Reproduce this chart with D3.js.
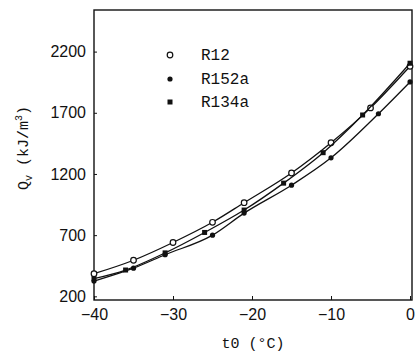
<!DOCTYPE html>
<html>
<head>
<meta charset="utf-8">
<script src="https://cdn.jsdelivr.net/npm/d3@7"></script>
<style>
  body { margin: 0; background: #fff; }
  svg { display: block; }
  .tick text { font-family: "Liberation Sans", Arial, sans-serif; font-size: 16px; fill: #111; }
  .mono { font-family: "Liberation Mono", "Courier New", monospace; fill: #111; }
</style>
</head>
<body>
<div id="chart"></div>
<script>
// data
const r12T = [-40, -35, -30, -25, -21, -15, -10, -5, 0]
const r12Q = [385, 495, 640, 805, 965, 1208, 1455, 1740, 2080]
const r152aT = [-40, -35, -31, -25, -21, -15, -10, -4, 0]
const r152aQ = [325, 430, 540, 700, 880, 1108, 1332, 1692, 1952]
const r134aT = [-40, -36, -31, -26, -21, -16, -11, -6, 0]
const r134aQ = [345, 415, 555, 722, 905, 1125, 1374, 1682, 2105]
const xTicks = [-40, -30, -20, -10, 0]
const yTicks = [200, 700, 1200, 1700, 2200]
const seriesNames = ['R12', 'R152a', 'R134a']

const width = 418
const height = 356
const plotL = 94, plotR = 412, plotT = 10, plotB = 300

const svg = d3.select('#chart').append('svg')
  .attr('width', width)
  .attr('height', height)

const x = d3.scaleLinear().domain([-40, 0.25]).range([plotL, plotR])
const y = d3.scaleLinear().domain([170, 2540]).range([plotB, plotT])

// frame
svg.append('rect')
  .attr('x', plotL).attr('y', plotT)
  .attr('width', plotR - plotL).attr('height', plotB - plotT)
  .attr('fill', 'none').attr('stroke', '#111').attr('stroke-width', 1.4)

const xAxis = svg.append('g')
  .attr('transform', `translate(0,${plotB})`)
  .call(d3.axisBottom(x).tickValues(xTicks).tickSizeInner(-4).tickSizeOuter(0).tickPadding(9)
    .tickFormat(d => d === 0 ? '0' : '\u2212' + Math.abs(d)))
xAxis.select('.domain').remove()
xAxis.selectAll('.tick line').attr('stroke', '#111')

const yAxis = svg.append('g')
  .attr('transform', `translate(${plotL},0)`)
  .call(d3.axisLeft(y).tickValues(yTicks).tickSizeInner(-3).tickSizeOuter(0).tickPadding(8)
    .tickFormat(d3.format('d')))
yAxis.select('.domain').remove()
yAxis.selectAll('.tick line').attr('stroke', '#111')

// axis titles
const yt = svg.append('text')
  .attr('class', 'mono')
  .attr('transform', 'translate(28,148) rotate(-90)')
  .attr('text-anchor', 'middle')
  .attr('font-size', 15)
yt.append('tspan').text('Q')
yt.append('tspan').attr('font-size', 10).attr('dy', 4).text('v')
yt.append('tspan').attr('dy', -4).text(' (kJ/m')
yt.append('tspan').attr('font-size', 10).attr('dy', -6).text('3')
yt.append('tspan').attr('dy', 6).text(')')

svg.append('text')
  .attr('class', 'mono')
  .attr('x', 253).attr('y', 348)
  .attr('text-anchor', 'middle')
  .attr('font-size', 15)
  .text('t0 (\u00b0C)')

// curves
const line = d3.line()
  .x(d => x(d[0]))
  .y(d => y(d[1]))
  .curve(d3.curveMonotoneX)

const series = [
  { name: seriesNames[0], pts: d3.zip(r12T, r12Q), marker: 'open' },
  { name: seriesNames[1], pts: d3.zip(r152aT, r152aQ), marker: 'dot' },
  { name: seriesNames[2], pts: d3.zip(r134aT, r134aQ), marker: 'square' }
]

function drawMarker(g, kind, cx, cy) {
  if (kind === 'open') {
    g.append('circle').attr('cx', cx).attr('cy', cy).attr('r', 2.8)
      .attr('fill', '#fff').attr('stroke', '#111').attr('stroke-width', 1.2)
  } else if (kind === 'dot') {
    g.append('circle').attr('cx', cx).attr('cy', cy).attr('r', 2.6).attr('fill', '#111')
  } else {
    g.append('rect').attr('x', cx - 2.5).attr('y', cy - 2.5)
      .attr('width', 5).attr('height', 5).attr('fill', '#111')
  }
}

series.forEach(s => {
  svg.append('path')
    .datum(s.pts)
    .attr('d', line)
    .attr('fill', 'none')
    .attr('stroke', '#111')
    .attr('stroke-width', 1.3)
  const g = svg.append('g')
  s.pts.forEach(p => drawMarker(g, s.marker, x(p[0]), y(p[1])))
})

// legend
const legendY = [55, 79, 102]
series.forEach((s, i) => {
  const g = svg.append('g')
  drawMarker(g, s.marker, 170, legendY[i])
  g.append('text')
    .attr('class', 'mono')
    .attr('x', 201).attr('y', legendY[i] + 5)
    .attr('font-size', 16)
    .text(s.name)
})
</script>
</body>
</html>
